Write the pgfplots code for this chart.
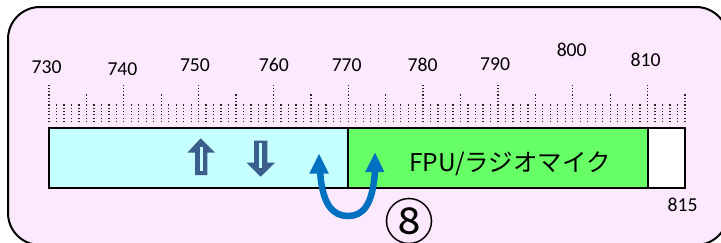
\documentclass[border=0pt]{standalone}
\usepackage{fontspec}
\setmainfont{Carlito}
\newfontfamily\jp{Noto Sans CJK JP}
\usepackage{pgfplots}
\pgfplotsset{compat=1.18}
\definecolor{bgpink}{RGB}{253,233,253}
\definecolor{barcyan}{RGB}{198,255,255}
\definecolor{bargreen}{RGB}{102,255,102}
\definecolor{arrowslate}{RGB}{59,94,140}
\definecolor{arrowblue}{RGB}{0,112,192}
\begin{document}
\begin{tikzpicture}
\useasboundingbox (0,0) rectangle (721pt,242pt);
\clip (0,0) rectangle (721pt,242pt);
\begin{scope}[x=1pt,y=-1pt,yshift=242pt]
\filldraw[fill=bgpink, draw=black, line width=2pt, rounded corners=32pt] (8,7) rectangle (728,245);
\end{scope}
\begin{axis}[at={(0,0)}, anchor=south west, width=721pt, height=242pt,
  scale only axis, hide axis, clip=false,
  xmin=723.451, xmax=819.81, ymin=-120, ymax=122]
% ruler ticks
\addplot[ycomb, mark=none, draw=black!85, line width=1.3pt, dash pattern=on 1.2pt off 2.1pt]
  coordinates {(730,39)(740,39)(750,39)(760,39)(770,39)(780,39)(790,39)(800,39)(810,39)};
\addplot[ycomb, mark=none, draw=black!85, line width=1.3pt, dash pattern=on 1.2pt off 2.1pt]
  coordinates {(735,29)(745,29)(755,29)(765,29)(775,29)(785,29)(795,29)(805,29)(815,29)};
\addplot[ycomb, mark=none, draw=black!85, line width=1.3pt, dash pattern=on 1.2pt off 2.1pt]
  coordinates {(731,18)(732,18)(733,18)(734,18)(736,18)(737,18)(738,18)(739,18)
  (741,18)(742,18)(743,18)(744,18)(746,18)(747,18)(748,18)(749,18)
  (751,18)(752,18)(753,18)(754,18)(756,18)(757,18)(758,18)(759,18)
  (761,18)(762,18)(763,18)(764,18)(766,18)(767,18)(768,18)(769,18)
  (771,18)(772,18)(773,18)(774,18)(776,18)(777,18)(778,18)(779,18)
  (781,18)(782,18)(783,18)(784,18)(786,18)(787,18)(788,18)(789,18)
  (791,18)(792,18)(793,18)(794,18)(796,18)(797,18)(798,18)(799,18)
  (801,18)(802,18)(803,18)(804,18)(806,18)(807,18)(808,18)(809,18)
  (811,18)(812,18)(813,18)(814,18)};
% band segments
\addplot[draw=black, line width=2pt, fill=barcyan, mark=none] coordinates {(730,-6)(770,-6)(770,-66)(730,-66)} -- cycle;
\addplot[draw=black, line width=2pt, fill=bargreen, mark=none] coordinates {(770,-6)(810,-6)(810,-66)(770,-66)} -- cycle;
\addplot[draw=black, line width=2pt, fill=white, mark=none] coordinates {(810,-6)(815,-6)(815,-66)(810,-66)} -- cycle;
% labels
\begin{scope}[every node/.style={font=\fontsize{19.7}{20}\selectfont, inner sep=0pt, anchor=base}]
\node at (axis cs:729.69,48.7) {730};
\node at (axis cs:739.82,47) {740};
\node at (axis cs:749.51,50.3) {750};
\node at (axis cs:760.05,50.3) {760};
\node at (axis cs:769.79,50.3) {770};
\node at (axis cs:779.92,50.3) {780};
\node at (axis cs:789.61,52) {790};
\node at (axis cs:799.86,65.3) {800};
\node at (axis cs:809.72,55.3) {810};
\node at (axis cs:814.67,-89.7) {815};
\end{scope}
\node[font=\jp\fontsize{24.5}{25}\selectfont, inner sep=0pt, anchor=base] at (axis cs:791.6,-49) {FPU/ラジオマイク};
\end{axis}
\begin{scope}[x=1pt,y=-1pt,yshift=242pt]
% up arrow
\fill[arrowslate] (200.7,138.3) -- (215,152.7) -- (207.3,152.7) -- (207.3,175) -- (195,175) -- (195,152.7) -- (187.3,152.7) -- cycle;
\fill[barcyan] (199.5,146.7) rectangle (202.5,170.7);
% down arrow
\fill[arrowslate] (254,140.7) -- (267.3,140.7) -- (267.3,162.7) -- (275,162.7) -- (260.7,176.7) -- (246.7,162.7) -- (254,162.7) -- cycle;
\fill[barcyan] (259.3,143.3) rectangle (262.3,168.3);
% curved double arrow
\draw[arrowblue, line width=6.5pt] (320,170) .. controls (322,205) and (333,216) .. (348,216) .. controls (363,216) and (373,205) .. (375,170);
\fill[arrowblue] (319,154) -- (328.8,173.5) -- (309.3,173.5) -- cycle;
\fill[arrowblue] (375,152.7) -- (384.5,172.2) -- (365,172.2) -- cycle;
% circled number
\node[font=\jp\fontsize{50}{50}\selectfont, inner sep=0pt, anchor=center] at (409,221) {⑧};
\end{scope}
\end{tikzpicture}
\end{document}
